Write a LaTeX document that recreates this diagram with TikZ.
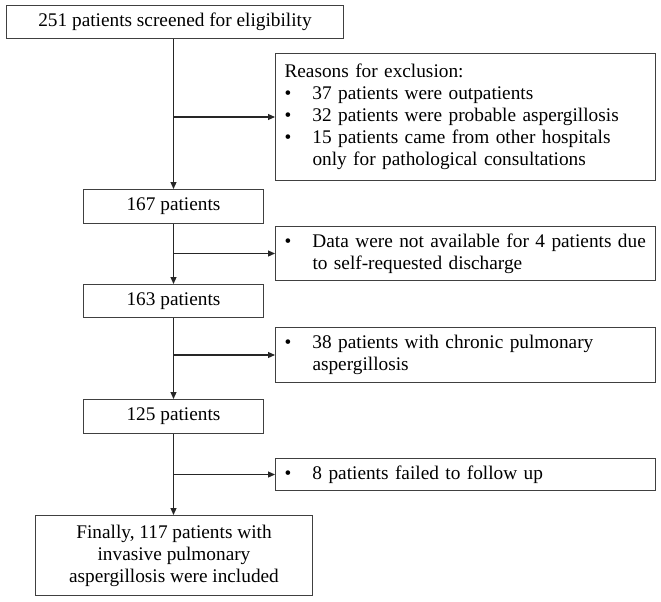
\documentclass[tikz,border=0pt]{standalone}
\usepackage{fontspec}
\setmainfont{Liberation Serif}
\usetikzlibrary{arrows.meta}
\begin{document}
\begin{tikzpicture}[x=1pt,y=-1pt,
  box/.style={draw=black!75, line width=1pt, inner sep=0pt, anchor=north west,
    font=\fontsize{19.3}{22}\selectfont},
  mainbox/.style={box, align=center},
  sidebox/.style={box, align=left, inner xsep=9pt, text width=362pt},
  arr/.style={draw=black!85, line width=1.1pt, -{Triangle[length=7pt,width=6pt]}}]
\useasboundingbox (0,0) rectangle (661,602);
\newcommand{\bul}{\makebox[28pt][l]{\textbullet}}
\newcommand{\hang}{\hspace*{28pt}}

\node[mainbox, minimum width=337pt, minimum height=33pt] (top) at (6,5) {251 patients screened for eligibility};
\node[sidebox, minimum height=127pt] (r1) at (275,53)
  {Reasons for exclusion:\\
   \bul 37 patients were outpatients\\
   \bul 32 patients were probable aspergillosis\\
   \bul 15 patients came from other hospitals\\
   \hang only for pathological consultations};
\node[mainbox, minimum width=180pt, minimum height=34pt] (p167) at (83,189) {167 patients};
\node[sidebox, minimum height=54pt] (r2) at (275,226)
  {\bul Data were not available for 4 patients due\\
   \hang to self-requested discharge};
\node[mainbox, minimum width=180pt, minimum height=33pt] (p163) at (83,284) {163 patients};
\node[sidebox, minimum height=55pt] (r3) at (275,327)
  {\bul 38 patients with chronic pulmonary\\
   \hang aspergillosis};
\node[mainbox, minimum width=180pt, minimum height=34pt] (p125) at (83,399) {125 patients};
\node[sidebox, minimum height=32pt] (r4) at (275,458)
  {\bul 8 patients failed to follow up};
\node[mainbox, minimum width=277pt, minimum height=80pt] (fin) at (35,515)
  {Finally, 117 patients with\\ invasive pulmonary\\ aspergillosis were included};

\draw[arr] (p167.north |- top.south) -- (p167.north);
\draw[arr] (p167.north |- r1.west) -- (r1.west);
\draw[arr] (p167.south) -- (p163.north);
\draw[arr] (p167.south |- r2.west) -- (r2.west);
\draw[arr] (p163.south) -- (p125.north);
\draw[arr] (p163.south |- r3.west) -- (r3.west);
\draw[arr] (p125.south) -- (p125.south |- fin.north);
\draw[arr] (p125.south |- r4.west) -- (r4.west);
\end{tikzpicture}
\end{document}
